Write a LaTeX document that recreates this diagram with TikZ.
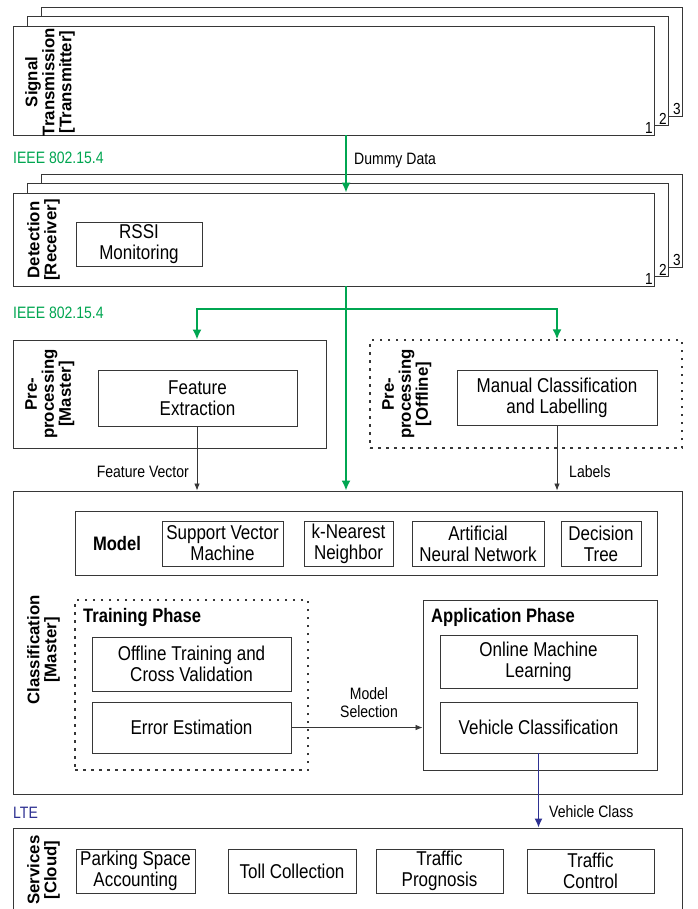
\documentclass[tikz,border=0pt]{standalone}
\usepackage{fontspec}
\setmainfont{Liberation Sans}
\newfontfamily\narrowf{Liberation Sans}[FakeStretch=0.85]
\usetikzlibrary{arrows.meta}
\definecolor{ieeegreen}{RGB}{0,166,81}
\definecolor{lteblue}{RGB}{46,49,146}
\definecolor{edge}{RGB}{55,55,55}
\newcommand\bodyf{\narrowf\fontsize{20}{21}\selectfont}
\newcommand\smallf{\narrowf\fontsize{16.5}{18}\selectfont}
\newcommand\headf{\narrowf\bfseries\fontsize{19.5}{21}\selectfont}
\newcommand\sidef{\bfseries\fontsize{16.8}{17}\selectfont}
\begin{document}
\begin{tikzpicture}[x=1pt,y=-1pt,
  cont/.style={draw=edge, line width=0.9pt, fill=white, inner sep=0pt},
  dotbox/.style={draw=edge, line width=1.3pt, dash pattern=on 2.5pt off 5.5pt, inner sep=0pt},
  inbox/.style={draw=edge, line width=0.9pt, fill=white, align=center, font=\bodyf, inner sep=1pt},
  side/.style={rotate=90, anchor=north, align=center, font=\sidef, inner sep=0pt},
  num/.style={anchor=south east, font=\narrowf\fontsize{16}{17}\selectfont, inner sep=1.5pt},
  lbl/.style={font=\smallf, align=center, inner sep=0pt},
  garrow/.style={draw=ieeegreen, line width=1.8pt, -{Latex[length=10pt,width=9pt]}},
  barrow/.style={draw=edge, line width=0.8pt, -{Latex[length=7pt,width=5.5pt]}},
  larrow/.style={draw=lteblue, line width=1.5pt, -{Latex[length=9pt,width=8pt]}}]
\clip (0,0) rectangle (697,909);
\fill[white] (0,0) rectangle (697,909);

% transmitter stack
\node[cont, minimum width=641pt, minimum height=109pt] (tx3) at (361.5,61.5) {};
\node[cont, minimum width=641pt, minimum height=109pt] (tx2) at (347.5,71) {};
\node[cont, minimum width=641pt, minimum height=109pt] (tx1) at (333.5,80.5) {};
\node[num] (n3a) at (tx3.south east) {3};
\node[num] (n2a) at (tx2.south east) {2};
\node[num] (n1a) at (tx1.south east) {1};
\node[side] (txl) at (25,82) {Signal\\Transmission\\{}[Transmitter]};

% receiver stack
\node[cont, minimum width=641pt, minimum height=93pt] (rx3) at (361.5,220.5) {};
\node[cont, minimum width=641pt, minimum height=93pt] (rx2) at (347.5,230) {};
\node[cont, minimum width=641pt, minimum height=93pt] (rx1) at (333.5,239.5) {};
\node[num] (n3b) at (rx3.south east) {3};
\node[num] (n2b) at (rx2.south east) {2};
\node[num] (n1b) at (rx1.south east) {1};
\node[side] (rxl) at (27,240) {Detection\\{}[Receiver]};
\node[inbox, minimum width=126pt, minimum height=44pt] (rssi) at (139,244) {RSSI\\Monitoring};

\node[lbl, anchor=west, text=ieeegreen] (ieee1) at (13,158) {IEEE 802.15.4};
\node[lbl, anchor=west, text=ieeegreen] (ieee2) at (13,313) {IEEE 802.15.4};
\node[lbl, anchor=west] (dd) at (354,161) {Dummy Data};

% preprocessing
\node[cont, minimum width=313pt, minimum height=108pt] (pm) at (169.5,394) {};
\node[side] (pml) at (25,394) {Pre-\\processing\\{}[Master]};
\node[inbox, minimum width=199pt, minimum height=56pt] (fe) at (197.5,398) {Feature\\Extraction};
\node[dotbox, minimum width=312pt, minimum height=108pt] (po) at (526,394) {};
\node[side] (pol) at (382,394) {Pre-\\processing\\{}[Offline]};
\node[inbox, minimum width=200pt, minimum height=55pt] (mc) at (557,397.5) {Manual Classification\\and Labelling};

% classification
\node[cont, minimum width=669pt, minimum height=303pt] (cls) at (347.5,642.5) {};
\node[side] (clsl) at (27,650) {Classification\\{}[Master]};
\node[cont, minimum width=582pt, minimum height=64pt] (mod) at (366,543) {};
\node[font=\headf] (modl) at (117,544) {Model};
\node[inbox, minimum width=121pt, minimum height=45pt] (svm) at (222.5,543.5) {Support Vector\\Machine};
\node[inbox, minimum width=89pt, minimum height=45pt] (knn) at (348.5,543.5) {k-Nearest\\Neighbor};
\node[inbox, minimum width=132pt, minimum height=45pt] (ann) at (478,543.5) {Artificial\\Neural Network};
\node[inbox, minimum width=80pt, minimum height=45pt] (dt) at (601,543.5) {Decision\\Tree};

\node[dotbox, minimum width=233pt, minimum height=170pt] (tp) at (191.5,685) {};
\node[font=\headf, anchor=west, inner sep=0pt] (tpl) at (83,617) {Training Phase};
\node[inbox, minimum width=199pt, minimum height=54pt] (ot) at (191.5,664) {Offline Training and\\Cross Validation};
\node[inbox, minimum width=199pt, minimum height=51pt] (ee) at (191.5,727.5) {Error Estimation};

\node[cont, minimum width=234pt, minimum height=170pt] (ap) at (540,685) {};
\node[font=\headf, anchor=west, inner sep=0pt] (apl) at (431,617) {Application Phase};
\node[inbox, minimum width=197pt, minimum height=53pt] (oml) at (538.5,661.5) {Online Machine\\Learning};
\node[inbox, minimum width=197pt, minimum height=51pt] (vc) at (538.5,727.5) {Vehicle Classification};

\draw[barrow] (ee.east) -- (ap.west |- ee.east);
\node[lbl] (msl) at (369,703) {Model\\Selection};

% services
\node[cont, minimum width=669pt, minimum height=90pt] (sv) at (347.5,873) {};
\node[side] (svl) at (27,870) {Services\\{}[Cloud]};
\node[inbox, minimum width=119pt, minimum height=44pt] (pk) at (135.5,871) {Parking Space\\Accounting};
\node[inbox, minimum width=128pt, minimum height=44pt] (tc) at (292,871) {Toll Collection};
\node[inbox, minimum width=127pt, minimum height=44pt] (tpg) at (439.5,871) {Traffic\\Prognosis};
\node[inbox, minimum width=127pt, minimum height=44pt] (tco) at (590.5,871) {Traffic\\Control};

\node[lbl, anchor=west, text=lteblue] (lte) at (13,813) {LTE};
\node[lbl, anchor=west] (vcl) at (549,812) {Vehicle Class};
\draw[larrow] (vc.south) -- (sv.north -| vc.south);

% arrows
\coordinate (ax) at (346,0);
\coordinate (fx) at (197,0);
\coordinate (lx) at (557,0);
\coordinate (br) at (346,309);
\draw[garrow] (tx1.south -| ax) -- (rx1.north -| ax);
\draw[garrow] (rx1.south -| ax) -- (cls.north -| ax);
\draw[garrow] (br) -| (pm.north -| fx);
\draw[garrow] (br) -| (po.north -| lx);
\draw[barrow] (fe.south -| fx) -- (cls.north -| fx);
\draw[barrow] (mc.south -| lx) -- (cls.north -| lx);
\node[lbl, anchor=east] (fvl) at (189,472) {Feature Vector};
\node[lbl, anchor=west] (lbl2) at (569,472) {Labels};
\end{tikzpicture}
\end{document}
